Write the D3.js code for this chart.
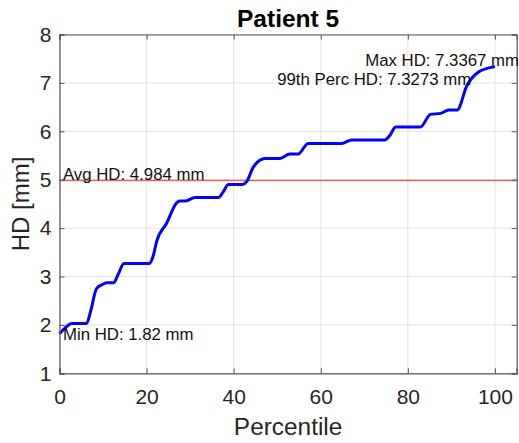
<!DOCTYPE html>
<html>
<head>
<meta charset="utf-8">
<script src="https://cdn.jsdelivr.net/npm/d3@7/dist/d3.min.js"></script>
<style>
  html, body { margin: 0; padding: 0; background: #fff; }
  svg { display: block; font-family: "Liberation Sans", Arial, Helvetica, sans-serif; }
</style>
</head>
<body>
<svg id="chart" width="519" height="443"></svg>
<script>
// Hausdorff distance per percentile
const percentile = [0, 1.2, 2.8, 6.2, 7.2, 8.5, 10.0, 10.8, 12.4, 13.5, 14.8, 20.6, 21.6, 22.3, 24.6, 26.9, 27.6, 28.8, 31.1, 36.5, 37.6, 38.8, 42.0, 43.0, 44.5, 46.0, 47.2, 50.6, 52.9, 54.8, 57.1, 64.8, 67.1, 74.7, 75.9, 77.2, 82.9, 85.2, 87.5, 89.4, 91.3, 93.6, 96.3, 98.6, 100];
const hdValues   = [1.82, 1.93, 2.03, 2.03, 2.30, 2.75, 2.84, 2.87, 2.87, 3.05, 3.27, 3.27, 3.45, 3.72, 4.10, 4.52, 4.56, 4.56, 4.63, 4.63, 4.75, 4.90, 4.90, 4.96, 5.26, 5.40, 5.44, 5.44, 5.53, 5.53, 5.75, 5.75, 5.82, 5.82, 5.92, 6.09, 6.09, 6.35, 6.37, 6.44, 6.44, 6.95, 7.23, 7.31, 7.3367];

const xTicks = [0, 20, 40, 60, 80, 100];
const yTicks = [1, 2, 3, 4, 5, 6, 7, 8];

const minHD = 1.82;
const avgHD = 4.984;
const p99HD = 7.3273;
const maxHD = 7.3367;

const svg = d3.select("#chart");
const pLeft = 59.5, pRight = 516.7, pTop = 34.5, pBottom = 373.3;

const x = d3.scaleLinear().domain([0, 105]).range([pLeft, pRight]);
const y = d3.scaleLinear().domain([1, 8]).range([pBottom, pTop]);

const axisColor = "#555";
const textColor = "#262626";

// grid
const grid = svg.append("g");
grid.selectAll("line.gx").data(xTicks).join("line")
  .attr("class", "gx")
  .attr("x1", d => x(d)).attr("x2", d => x(d))
  .attr("y1", pTop).attr("y2", pBottom)
  .attr("stroke", "#e3e3e3").attr("stroke-width", 1);
grid.selectAll("line.gy").data(yTicks).join("line")
  .attr("class", "gy")
  .attr("x1", pLeft).attr("x2", pRight)
  .attr("y1", d => y(d)).attr("y2", d => y(d))
  .attr("stroke", "#e3e3e3").attr("stroke-width", 1);

// average line
svg.append("line")
  .attr("x1", pLeft).attr("x2", pRight)
  .attr("y1", y(avgHD)).attr("y2", y(avgHD))
  .attr("stroke", "#d46a6a").attr("stroke-width", 1.5);

// curve
const pts = percentile.map((p, i) => [p, hdValues[i]]);
svg.append("path")
  .datum(pts)
  .attr("fill", "none")
  .attr("stroke", "#0000ff")
  .attr("stroke-width", 3)
  .attr("stroke-linejoin", "round")
  .attr("d", d3.line().x(d => x(d[0])).y(d => y(d[1])).curve(d3.curveMonotoneX));

// axes (ticks inward, box on)
const fmt = d3.format("d");
const axB = svg.append("g").attr("transform", `translate(0,${pBottom})`)
  .call(d3.axisBottom(x).tickValues(xTicks).tickSize(-5).tickPadding(16).tickFormat(fmt));
const axT = svg.append("g").attr("transform", `translate(0,${pTop})`)
  .call(d3.axisTop(x).tickValues(xTicks).tickSize(-5).tickFormat(""));
const axL = svg.append("g").attr("transform", `translate(${pLeft},0)`)
  .call(d3.axisLeft(y).tickValues(yTicks).tickSize(-5).tickPadding(8).tickFormat(fmt));
const axR = svg.append("g").attr("transform", `translate(${pRight},0)`)
  .call(d3.axisRight(y).tickValues(yTicks).tickSize(-5).tickFormat(""));
[axB, axT, axL, axR].forEach(g => {
  g.select(".domain").attr("stroke", axisColor).attr("stroke-width", 1.2);
  g.selectAll(".tick line").attr("stroke", axisColor);
  g.selectAll(".tick text").attr("fill", textColor)
    .style("font-size", "21px").style("font-family", "Liberation Sans, Arial, sans-serif");
});
axB.selectAll(".tick text").attr("dy", "0.71em");

// annotations
const ann = svg.append("g").style("font-size", "16.8px").attr("fill", "#111");
ann.append("text").attr("x", x(0.8)).attr("y", y(minHD)).attr("dy", "0.4em").text("Min HD: 1.82 mm");
ann.append("text").attr("x", x(0.8)).attr("y", y(avgHD)).attr("dy", "-0.05em").text("Avg HD: 4.984 mm");
ann.append("text").attr("x", x(70.2)).attr("y", y(maxHD)).attr("dy", "-0.05em").text("Max HD: 7.3367 mm");
ann.append("text").attr("x", x(50)).attr("y", y(p99HD - 0.38)).attr("dy", "0").text("99th Perc HD: 7.3273 mm");

// labels
svg.append("text")
  .attr("x", (pLeft + pRight) / 2).attr("y", 27)
  .attr("text-anchor", "middle")
  .style("font-size", "24.5px").style("font-weight", "bold")
  .attr("fill", "#000").text("Patient 5");
svg.append("text")
  .attr("x", (pLeft + pRight) / 2).attr("y", 435)
  .attr("text-anchor", "middle")
  .style("font-size", "24.4px").attr("fill", textColor).text("Percentile");
svg.append("text")
  .attr("transform", `translate(29,${(pTop + pBottom) / 2}) rotate(-90)`)
  .attr("text-anchor", "middle")
  .style("font-size", "24px").attr("fill", textColor).text("HD [mm]");
</script>
</body>
</html>
